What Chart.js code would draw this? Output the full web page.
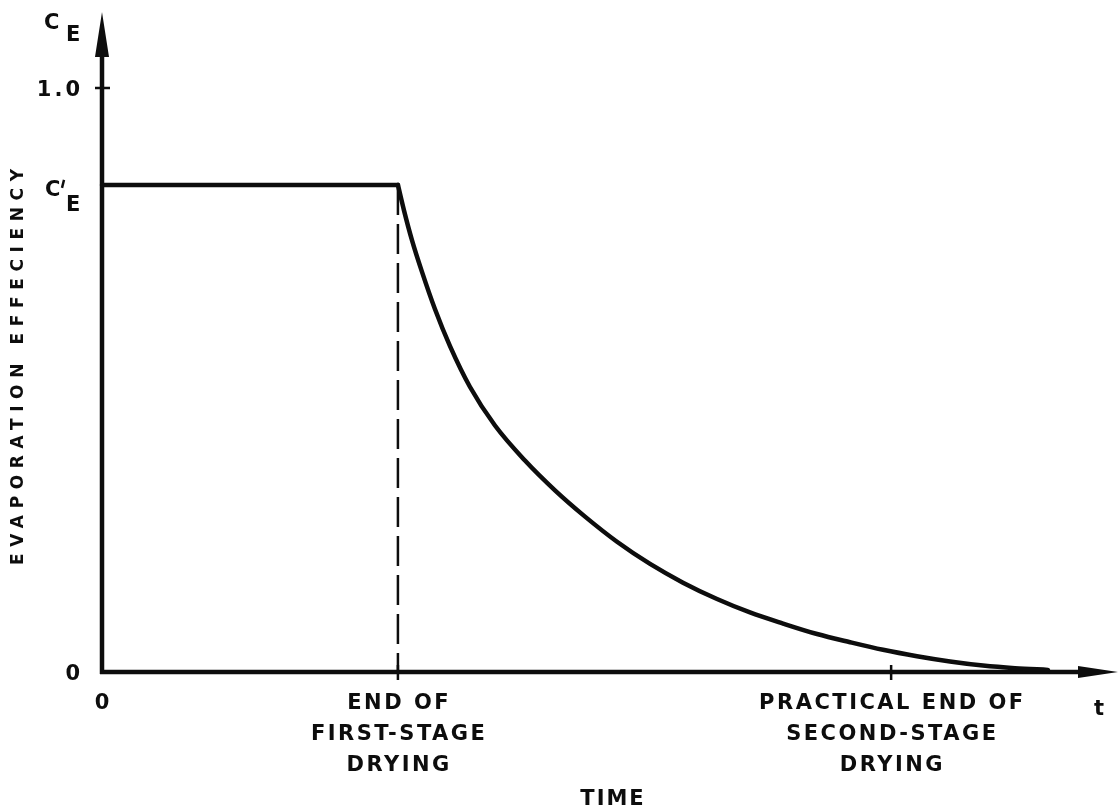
<!DOCTYPE html>
<html>
<head>
<meta charset="utf-8">
<title>Evaporation efficiency vs time</title>
<script src="https://cdn.jsdelivr.net/npm/chart.js@4.4.1/dist/chart.umd.min.js"></script>
<style>
  html, body { margin: 0; padding: 0; background: #fff; }
  canvas { display: block; }
</style>
</head>
<body>
<canvas id="chart" width="1118" height="809"></canvas>
<script>
// axis ranges (time in arbitrary units, efficiency as fraction)
const timeMax = 10.3;
const effMax = 1.13;
const effPrime = 0.834; // C'E level

// first stage: constant efficiency
const flatTime = [0, 3];
const flatEff = [effPrime, effPrime];

// second stage: falling efficiency
const dryTime = [3.0, 3.062, 3.143, 3.244, 3.376, 3.528, 3.731, 3.984, 4.288, 4.592, 4.897, 5.221, 5.556, 5.890, 6.235, 6.569, 6.904, 7.249, 7.583, 7.918, 8.262, 8.597, 8.931, 9.256, 9.590];
const dryEff = [0.834, 0.790, 0.739, 0.685, 0.621, 0.558, 0.488, 0.422, 0.362, 0.311, 0.266, 0.223, 0.185, 0.153, 0.125, 0.102, 0.083, 0.065, 0.051, 0.038, 0.027, 0.018, 0.011, 0.0065, 0.0036];

// dashed marker at end of first stage
const markTime = [3, 3];
const markEff = [effPrime, 0];

// tick labels
const xTickValues = [0, 3, 8];
const xTickLabels = [['0'], ['END OF', 'FIRST-STAGE', 'DRYING'], ['PRACTICAL END OF', 'SECOND-STAGE', 'DRYING']];
const yTickValues = [0, effPrime, 1.0];
const yTickLabels = ['0', "C'E", '1.0'];

const xTitle = 'TIME';
const yTitle = 'EVAPORATION EFFECIENCY';
const xUnit = 't';

const INK = '#0d0d0d';
const FONT = '"DejaVu Sans", sans-serif';

function pts(xs, ys) {
  return xs.map((x, i) => ({ x: x, y: ys[i] }));
}

// draw text with letter spacing; align = left/center/right
function spaced(ctx, text, x, y, spacing, align) {
  ctx.letterSpacing = '0px';
  const w = ctx.measureText(text).width + spacing * (text.length - 1);
  let sx = x;
  if (align === 'center') sx = x - w / 2;
  if (align === 'right') sx = x - w;
  ctx.letterSpacing = spacing + 'px';
  ctx.textAlign = 'left';
  ctx.fillText(text, sx, y);
  ctx.letterSpacing = '0px';
}

function fitSpacing(ctx, text, width) {
  ctx.letterSpacing = '0px';
  return (width - ctx.measureText(text).width) / (text.length - 1);
}

const sketchAxes = {
  id: 'sketchAxes',
  beforeDatasetsDraw(chart) {
    const ctx = chart.ctx;
    const xs = chart.scales.x, ys = chart.scales.y;
    const x0 = xs.getPixelForValue(0);
    const y0 = ys.getPixelForValue(0);
    const yTop = ys.getPixelForValue(effMax);
    const xEnd = xs.getPixelForValue(timeMax);

    ctx.save();
    ctx.strokeStyle = INK;
    ctx.fillStyle = INK;
    ctx.lineCap = 'butt';

    // axes
    ctx.lineWidth = 4.5;
    ctx.beginPath();
    ctx.moveTo(x0, y0 + 2);
    ctx.lineTo(x0, yTop + 30);
    ctx.moveTo(x0 - 2, y0);
    ctx.lineTo(xEnd - 30, y0);
    ctx.stroke();

    // arrowheads
    ctx.beginPath();
    ctx.moveTo(x0, yTop);
    ctx.lineTo(x0 - 7, yTop + 45);
    ctx.lineTo(x0 + 7, yTop + 45);
    ctx.closePath();
    ctx.fill();
    ctx.beginPath();
    ctx.moveTo(xEnd, y0);
    ctx.lineTo(xEnd - 40, y0 - 6);
    ctx.lineTo(xEnd - 40, y0 + 6);
    ctx.closePath();
    ctx.fill();

    // tick marks
    ctx.lineWidth = 2.5;
    ctx.beginPath();
    const y1 = ys.getPixelForValue(1.0);
    ctx.moveTo(x0 - 7, y1);
    ctx.lineTo(x0 + 8, y1);
    xTickValues.slice(1).forEach(v => {
      const px = xs.getPixelForValue(v);
      ctx.moveTo(px, y0 - 7);
      ctx.lineTo(px, y0 + 8);
    });
    ctx.stroke();
    ctx.restore();
  },
  afterDraw(chart) {
    const ctx = chart.ctx;
    const xs = chart.scales.x, ys = chart.scales.y;
    const x0 = xs.getPixelForValue(0);
    const y0 = ys.getPixelForValue(0);
    const yTop = ys.getPixelForValue(effMax);

    ctx.save();
    ctx.fillStyle = INK;
    ctx.strokeStyle = INK;
    ctx.textBaseline = 'alphabetic';
    ctx.font = 'bold 21px ' + FONT;

    // x tick labels
    xTickValues.forEach((v, i) => {
      const px = xs.getPixelForValue(v);
      xTickLabels[i].forEach((line, j) => {
        spaced(ctx, line, px, y0 + 37 + 31 * j, 2.5, 'center');
      });
    });

    // y tick labels
    yTickValues.forEach((v, i) => {
      const py = ys.getPixelForValue(v);
      const lab = yTickLabels[i];
      if (lab === "C'E") {
        ctx.textAlign = 'left';
        ctx.fillText('C', x0 - 57, py + 11);
        ctx.fillText('E', x0 - 36, py + 26);
        // prime
        ctx.lineWidth = 2.5;
        ctx.beginPath();
        ctx.moveTo(x0 - 38, py - 5);
        ctx.lineTo(x0 - 40, py + 3);
        ctx.stroke();
      } else {
        spaced(ctx, lab, x0 - 22, py + 8, 3, 'right');
      }
    });

    // C_E at top of axis
    ctx.textAlign = 'left';
    ctx.fillText('C', x0 - 58, yTop + 17);
    ctx.fillText('E', x0 - 36, yTop + 29);

    // unit at arrow tip
    ctx.textAlign = 'center';
    ctx.fillText(xUnit, 1099, y0 + 43);

    // x title
    spaced(ctx, xTitle, 612, y0 + 133, 2, 'center');

    // y title
    ctx.font = 'bold 17px ' + FONT;
    ctx.translate(23, 367);
    ctx.rotate(-Math.PI / 2);
    spaced(ctx, yTitle, 0, 0, fitSpacing(ctx, yTitle, 396), 'center');
    ctx.restore();
  }
};

new Chart(document.getElementById('chart'), {
  type: 'line',
  data: {
    datasets: [
      {
        data: pts(flatTime, flatEff),
        borderColor: INK,
        borderWidth: 4.5,
        borderCapStyle: 'round',
        pointRadius: 0,
        tension: 0
      },
      {
        data: pts(dryTime, dryEff),
        borderColor: INK,
        borderWidth: 4.5,
        borderCapStyle: 'round',
        cubicInterpolationMode: 'monotone',
        pointRadius: 0
      },
      {
        data: pts(markTime, markEff),
        borderColor: INK,
        borderWidth: 2.5,
        borderDash: [30, 9],
        pointRadius: 0
      }
    ]
  },
  options: {
    responsive: false,
    animation: false,
    events: [],
    clip: false,
    layout: { padding: { left: 102, top: 12, right: 0, bottom: 137 }, autoPadding: false },
    scales: {
      x: { type: 'linear', min: 0, max: timeMax, display: false },
      y: { type: 'linear', min: 0, max: effMax, display: false }
    },
    plugins: {
      legend: { display: false },
      tooltip: { enabled: false }
    }
  },
  plugins: [sketchAxes]
});
</script>
</body>
</html>
